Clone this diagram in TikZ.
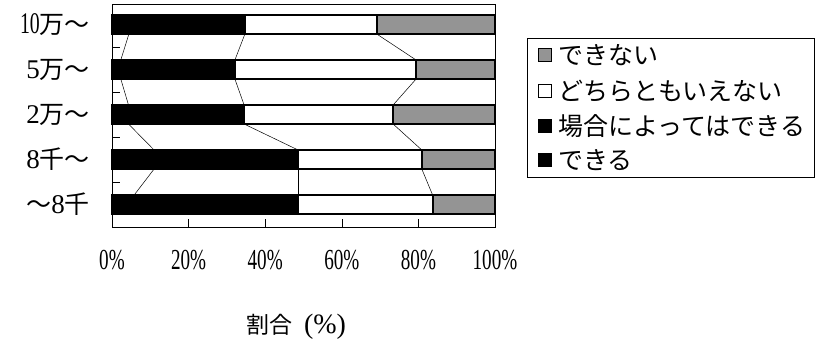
\documentclass[tikz,border=0pt]{standalone}
\usepackage{fontspec}
\setmainfont{Liberation Serif}
\newfontfamily\cjk{Noto Sans CJK JP}
\newfontfamily\numfont[FakeStretch=0.66]{Liberation Serif}
\usetikzlibrary{positioning}

\begin{document}
\begin{tikzpicture}[
    x=1pt, y=-1pt,
    frame/.style={draw=black, line width=0.8pt},
    barseg/.style={draw=black, line width=2pt},
    serline/.style={draw=black, line width=0.5pt},
    axtick/.style={draw=black, line width=0.6pt},
    catlabel/.style={anchor=east, inner sep=0pt},
    pctlabel/.style={inner sep=0pt, font=\numfont\fontsize{29}{30}\selectfont},
    legkey/.style={draw=black, line width=1.4pt, minimum size=13pt, inner sep=0pt},
    legtext/.style={anchor=west, inner sep=0pt, font=\cjk\fontsize{25}{27}\selectfont}
]
    \useasboundingbox[fill=white] (0,0) rectangle (822,346);

    % bars: row / centre / end of each cumulative share
    \foreach \n/\y/\a/\b/\c in {1/24.5/128.9/244.9/376.7, 2/69.5/120.8/234.9/416.1,
        3/114.5/128.5/244.1/393.1, 4/159.5/154.1/298.1/421.8, 5/204.5/134.2/298.1/432.6}{
        \filldraw[barseg, fill=black] (112,\y-9.5) rectangle (\b,\y+9.5);
        \filldraw[barseg, fill=white] (\b,\y-9.5) rectangle (\c,\y+9.5);
        \filldraw[barseg, fill=black!42] (\c,\y-9.5) rectangle (495,\y+9.5);
        \coordinate (a\n-t) at (\a,\y-9.5);
        \coordinate (a\n-b) at (\a,\y+9.5);
        \coordinate (b\n-t) at (\b,\y-9.5);
        \coordinate (b\n-b) at (\b,\y+9.5);
        \coordinate (c\n-t) at (\c,\y-9.5);
        \coordinate (c\n-b) at (\c,\y+9.5);
    }
    % series lines
    \foreach \i/\j in {1/2,2/3,3/4,4/5}
        \foreach \s in {a,b,c}
            \draw[serline] (\s\i-b) -- (\s\j-t);

    % plot frame and ticks
    \draw[frame] (112,4) rectangle (495,227);
    \foreach \t in {47,92,137,182}
        \draw[axtick] (112,\t) -- (120,\t);
    \foreach \p in {20,40,60,80}
        \draw[axtick] ({112+3.83*\p},227) -- ({112+3.83*\p},219);

    % category labels
    \node[catlabel] (cat1) at (90,24.5)
        {{\numfont\fontsize{30}{30}\selectfont 10}{\cjk\fontsize{25}{27}\selectfont 万～}};
    \node[catlabel] (cat2) at (90,69.5)
        {{\fontsize{27}{27}\selectfont 5}{\cjk\fontsize{25}{27}\selectfont 万～}};
    \node[catlabel] (cat3) at (90,114.5)
        {{\fontsize{27}{27}\selectfont 2}{\cjk\fontsize{25}{27}\selectfont 万～}};
    \node[catlabel] (cat4) at (90,159.5)
        {{\fontsize{27}{27}\selectfont 8}{\cjk\fontsize{25}{27}\selectfont 千～}};
    \node[catlabel] (cat5) at (90,204.5)
        {{\cjk\fontsize{25}{27}\selectfont ～}{\fontsize{27}{27}\selectfont 8}{\cjk\fontsize{25}{27}\selectfont 千}};

    % axis labels
    \foreach \p [count=\k] in {0,20,...,100}
        \node[pctlabel] (pct\k) at ({112+3.83*\p},260) {\p\%};
    \node[inner sep=0pt] (axtitle) at (296,327)
        {{\cjk\fontsize{23}{25}\selectfont 割合}\hspace{12pt}{\fontsize{28}{30}\selectfont (\%)}};

    % legend
    \draw[frame] (527,38) rectangle (814,177);
    \node[legkey, fill=black!42] (key1) at (545,55) {};
    \node[legkey, fill=white] (key2) at (545,91) {};
    \node[legkey, fill=black] (key3) at (545,126) {};
    \node[legkey, fill=black] (key4) at (545,160) {};
    \node[legtext, right=6pt of key1] (leg1) {できない};
    \node[legtext, right=6pt of key2] (leg2) {どちらともいえない};
    \node[legtext, right=6pt of key3] (leg3) {場合によってはできる};
    \node[legtext, right=6pt of key4] (leg4) {できる};
\end{tikzpicture}
\end{document}
